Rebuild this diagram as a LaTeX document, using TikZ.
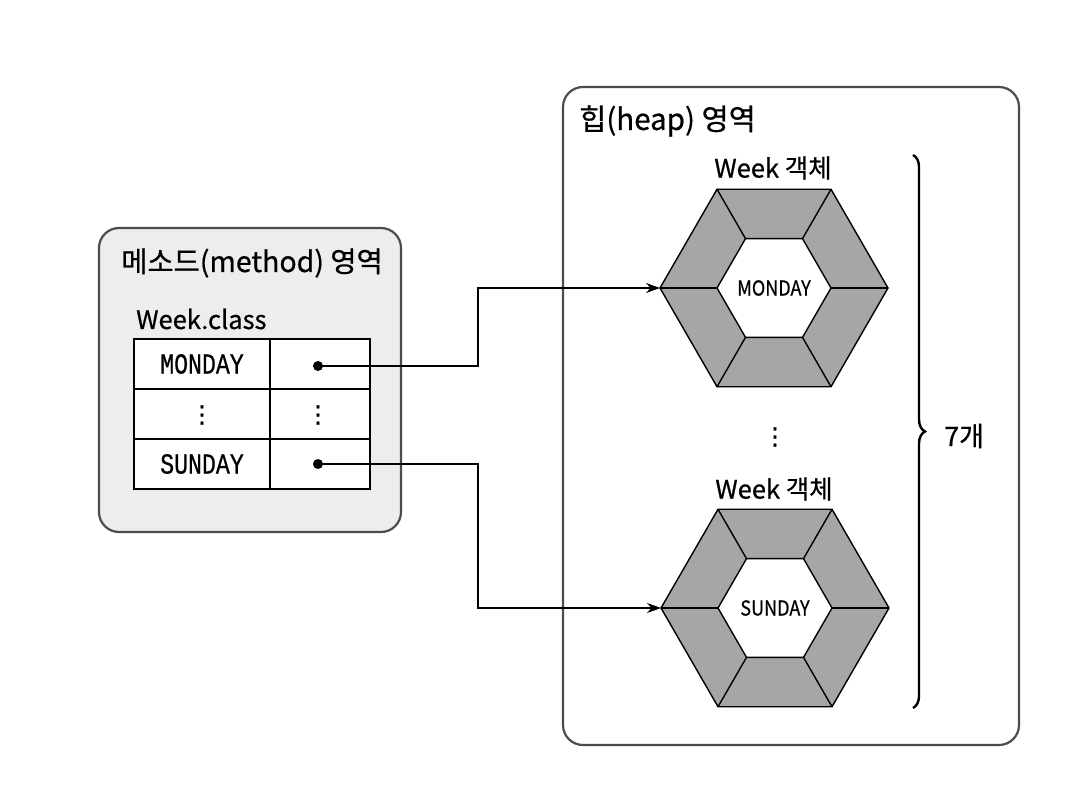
\documentclass[tikz,border=0pt]{standalone}
\usepackage{fontspec}
\setmainfont[FakeBold=0.6]{Noto Sans CJK KR}
\newfontfamily\monof[FakeStretch=0.8,FakeBold=0.5]{Liberation Mono}
\newfontfamily\hexf[FakeStretch=0.88,FakeBold=0.6]{Noto Sans CJK KR}
\newfontfamily\dejavu[FakeBold=1.2]{DejaVu Sans}
\usetikzlibrary{arrows.meta,decorations.pathreplacing,calc}
\newcommand\hexobj[1]{%
  \filldraw[fill=black!35,draw=black,line width=1.4pt,line join=miter]
    (#1) +(0:114) -- +(60:114) -- +(120:114) -- +(180:114) -- +(240:114) -- +(300:114) -- cycle;
  \filldraw[fill=white,draw=black,line width=1.4pt,line join=miter]
    (#1) +(0:57) -- +(60:57) -- +(120:57) -- +(180:57) -- +(240:57) -- +(300:57) -- cycle;
  \foreach \a in {0,60,...,300} \draw[line width=1.4pt] (#1) ++(\a:57) -- ++(\a:57);
}
\begin{document}
\begin{tikzpicture}[x=1pt,y=-1pt,
  area/.style={draw=black!70, line width=2.2pt, rounded corners=20pt},
  lbl/.style={inner sep=0pt, font=\fontsize{28.5}{32}\selectfont},
  small/.style={inner sep=0pt, font=\fontsize{25.5}{30}\selectfont},
  cell/.style={draw, line width=1.6pt, inner sep=0pt, minimum height=50pt, font=\monof\fontsize{29}{32}\selectfont},
  dotnode/.style={circle, fill=black, inner sep=0pt, minimum size=10pt},
  conn/.style={line width=1.3pt, -{Stealth[length=14pt,width=10pt]}},
  hexlbl/.style={inner sep=0pt, font=\hexf\fontsize{20.5}{24}\selectfont},
  vd/.style={inner sep=0pt, font=\dejavu\fontsize{24}{26}\selectfont},
]
\useasboundingbox (0,0) rectangle (1084,792);
\fill[white] (0,0) rectangle (1084,792);

% method area
\draw[area, fill=black!7] (99,228) rectangle (401,532);
\node[lbl, anchor=west] (mtitle) at (121,263) {메소드(method) 영역};
\node[small, anchor=west] (wc) at (136,319) {Week.class};

\node[cell, minimum width=136pt, fill=white] (c11) at (202,364) {MONDAY};
\node[cell, minimum width=100pt, fill=white] (c12) at (320,364) {};
\node[cell, minimum width=136pt, fill=white] (c21) at (202,414) {};
\node[cell, minimum width=100pt, fill=white] (c22) at (320,414) {};
\node[cell, minimum width=136pt, fill=white] (c31) at (202,464) {SUNDAY};
\node[cell, minimum width=100pt, fill=white] (c32) at (320,464) {};
\draw[line width=1.6pt] (134,339) rectangle (370,489);
\node[vd] (vd1) at (202,415) {⋮};
\node[vd] (vd2) at (318,415) {⋮};
\node[dotnode] (b1) at (318,366) {};
\node[dotnode] (b2) at (318,464) {};

% heap area
\draw[area] (563,87) rectangle (1019,745);
\node[lbl, anchor=west, font=\fontsize{29.5}{33}\selectfont] (htitle) at (579,121) {힙(heap) 영역};

\node[small] (wk1) at (773,168) {Week 객체};
\coordinate (hx1) at (774,288);
\hexobj{hx1}
\node[hexlbl] (t1) at (hx1) {MONDAY};
\coordinate (h1w) at (660,288);

\node[vd] (vd3) at (775,437) {⋮};

\node[small] (wk2) at (774,489) {Week 객체};
\coordinate (hx2) at (775,608);
\hexobj{hx2}
\node[hexlbl] (t2) at (hx2) {SUNDAY};
\coordinate (h2w) at (661,608);

% connectors
\coordinate (e1) at (478,366);
\coordinate (e2) at (478,464);
\draw[conn] (b1.center) -- (e1) |- (h1w);
\draw[conn] (b2.center) -- (e2) |- (h2w);

% brace
\draw[decorate, decoration={brace, amplitude=12pt}, line width=2.4pt] (913,155) -- (913,708);
\node[small, anchor=west, font=\fontsize{27}{30}\selectfont] (seven) at (944,436) {7개};
\end{tikzpicture}
\end{document}
